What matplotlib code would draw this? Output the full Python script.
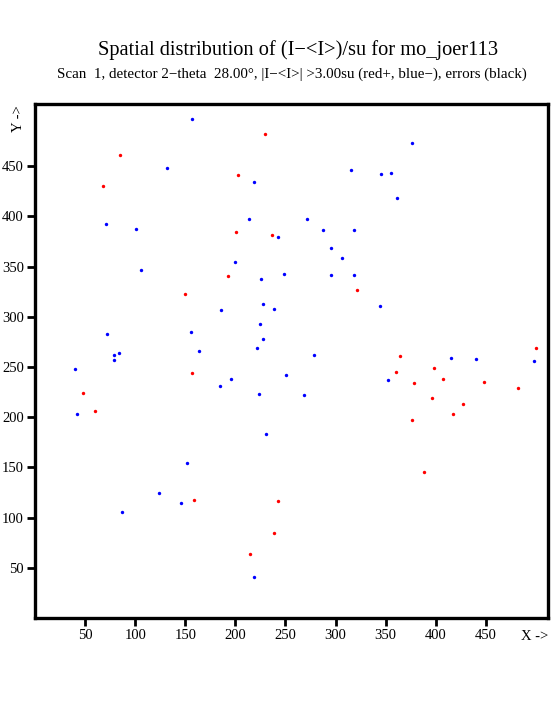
import matplotlib
matplotlib.use('Agg')
import matplotlib.pyplot as plt

plt.rcParams['font.family'] = ['Liberation Serif', 'DejaVu Serif']

# positive deviations (red)
red_x = [85, 68, 230, 203, 201, 237, 150, 157, 48, 60, 193, 321, 364, 500, 360,
         398, 407, 378, 448, 482, 396, 427, 417, 376, 159, 243, 239, 215, 388]
red_y = [461, 430, 482, 441, 384, 382, 323, 244, 224, 206, 341, 327, 261, 269, 245,
         249, 238, 234, 235, 229, 219, 213, 203, 197, 118, 117, 85, 64, 145]

# negative deviations (blue)
blue_x = [157, 132, 71, 101, 106, 219, 315, 345, 355, 361, 376, 214, 271, 287, 318,
          243, 295, 306, 200, 72, 156, 164, 79, 84, 79, 40, 42, 226, 249, 295, 318,
          344, 228, 186, 239, 225, 228, 222, 278, 251, 196, 185, 224, 268, 231, 415,
          440, 498, 352, 152, 124, 146, 87, 219]
blue_y = [497, 448, 392, 387, 347, 434, 446, 442, 443, 418, 473, 397, 397, 386, 386,
          380, 369, 359, 355, 283, 285, 266, 262, 264, 257, 248, 203, 338, 343, 342, 342,
          311, 313, 307, 308, 293, 278, 269, 262, 242, 238, 231, 223, 222, 183, 259,
          258, 256, 237, 154, 125, 115, 106, 41]

xticks = [50, 100, 150, 200, 250, 300, 350, 400, 450]
yticks = [50, 100, 150, 200, 250, 300, 350, 400, 450]

fig = plt.figure(figsize=(5.55, 7.25), dpi=100)
ax = fig.add_axes([35/555, 1 - 618/725, 513/555, 514/725])

ax.scatter(red_x, red_y, s=6, c='#ff0000', marker='o', linewidths=0)
ax.scatter(blue_x, blue_y, s=6, c='#0000ff', marker='o', linewidths=0)

ax.set_xlim(0, 512)
ax.set_ylim(0, 512)
ax.set_xticks(xticks)
ax.set_yticks(yticks)
for s in ax.spines.values():
    s.set_linewidth(2.4)
ax.tick_params(direction='out', length=6, width=2, labelsize=10.5, pad=2)

fig.text(298/555, 1 - 50/725, 'Spatial distribution of (I\u2212<I>)/su for mo_joer113',
         ha='center', va='center', fontsize=14.7)
fig.text(292/555, 1 - 74/725,
         'Scan  1, detector 2\u2212theta  28.00\u00b0, |I\u2212<I>| >3.00su (red+, blue\u2212), errors (black)',
         ha='center', va='center', fontsize=10.8)
fig.text(548/555, 1 - 636/725, 'X ->', ha='right', va='center', fontsize=10.5)
fig.text(18/555, 1 - 119/725, 'Y ->', ha='center', va='center', rotation=90, fontsize=10.5)

fig.savefig('out.png', dpi=100)
